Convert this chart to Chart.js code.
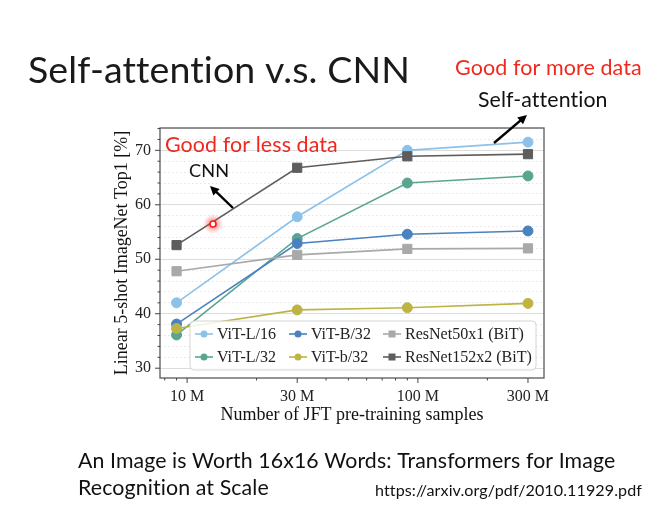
<!DOCTYPE html>
<html><head><meta charset="utf-8">
<script src="https://cdn.jsdelivr.net/npm/chart.js@4.4.0/dist/chart.umd.min.js"></script>
<style>html,body{margin:0;padding:0;background:#fff;}#wrap{width:665px;height:509px;position:relative;}</style>
</head><body><div id="wrap"><canvas id="c"></canvas></div>
<script>
const samples = [9e6, 30e6, 90e6, 300e6];
const vitL16 = [42.0, 57.8, 70.0, 71.5];
const vitL32 = [36.1, 53.8, 64.0, 65.3];
const vitB32 = [38.1, 52.9, 54.6, 55.2];
const vitb32 = [37.3, 40.7, 41.1, 41.9];
const r50x1 = [47.8, 50.8, 51.9, 52.0];
const r152x2 = [52.6, 66.8, 68.9, 69.3];
const seriesLabels = ['ViT-L/16','ViT-L/32','ViT-B/32','ViT-b/32','ResNet50x1 (BiT)','ResNet152x2 (BiT)'];
const xTickValues = [1e7, 3e7, 1e8, 3e8];
const xTickLabels = ['10 M','30 M','100 M','300 M'];
const yTickValues = [30, 40, 50, 60, 70];
const xTitle = 'Number of JFT pre-training samples';
const yTitle = 'Linear 5-shot ImageNet Top1 [%]';
const slideTitle = 'Self-attention v.s. CNN';
const noteMore = 'Good for more data';
const noteSA = 'Self-attention';
const noteLess = 'Good for less data';
const noteCNN = 'CNN';
const refLine1 = 'An Image is Worth 16x16 Words: Transformers for Image';
const refLine2 = 'Recognition at Scale';
const refUrl = 'https://arxiv.org/pdf/2010.11929.pdf';

const colors = ['#8cc2ea','#5aa590','#4a82bf','#bdb444','#a9a9a9','#5d5d5d'];
const styles = ['circle','circle','circle','circle','rect','rect'];
const allSeries = [vitL16, vitL32, vitB32, vitb32, r50x1, r152x2];

const datasets = allSeries.map((vals, i) => ({
  label: seriesLabels[i],
  data: vals.map((v, j) => ({x: samples[j], y: v})),
  borderColor: colors[i], backgroundColor: colors[i],
  pointBackgroundColor: colors[i], pointBorderColor: colors[i],
  pointStyle: styles[i], pointRadius: styles[i] === 'rect' ? 6.5 : 5,
  pointBorderWidth: 1, borderWidth: 1.6, tension: 0, fill: false,
  order: allSeries.length - i
}));

const SERIF = 'Liberation Serif';
const SANS = 'Lato';

function fitText(ctx, text, x, y, w, family, color) {
  ctx.save();
  if ('letterSpacing' in ctx) ctx.letterSpacing = '0.1px';
  ctx.font = '40px "' + family + '"';
  const m = ctx.measureText(text).width;
  const size = 40 * w / m;
  ctx.font = size + 'px "' + family + '"';
  ctx.fillStyle = color;
  ctx.textAlign = 'left';
  ctx.textBaseline = 'alphabetic';
  ctx.fillText(text, x, y);
  ctx.restore();
}
function arrow(ctx, x1, y1, x2, y2) {
  const a = Math.atan2(y2 - y1, x2 - x1);
  const hl = 9, hw = 4.5;
  ctx.save();
  ctx.strokeStyle = '#000'; ctx.fillStyle = '#000'; ctx.lineWidth = 2.4;
  ctx.beginPath();
  ctx.moveTo(x1, y1);
  ctx.lineTo(x2 - Math.cos(a) * hl * 0.8, y2 - Math.sin(a) * hl * 0.8);
  ctx.stroke();
  ctx.beginPath();
  ctx.moveTo(x2, y2);
  ctx.lineTo(x2 - hl * Math.cos(a) + hw * Math.sin(a), y2 - hl * Math.sin(a) - hw * Math.cos(a));
  ctx.lineTo(x2 - hl * Math.cos(a) - hw * Math.sin(a), y2 - hl * Math.sin(a) + hw * Math.cos(a));
  ctx.closePath(); ctx.fill();
  ctx.restore();
}

const overlay = {
  id: 'overlay',
  afterDatasetsDraw(chart) {
    const ctx = chart.ctx;
    const bx = 190, by = 321, bw = 346, bh = 49, r = 4;
    ctx.save();
    ctx.beginPath();
    ctx.moveTo(bx + r, by); ctx.arcTo(bx + bw, by, bx + bw, by + bh, r);
    ctx.arcTo(bx + bw, by + bh, bx, by + bh, r); ctx.arcTo(bx, by + bh, bx, by, r);
    ctx.arcTo(bx, by, bx + bw, by, r); ctx.closePath();
    ctx.fillStyle = 'rgba(255,255,255,0.85)'; ctx.fill();
    ctx.strokeStyle = '#d4d4d4'; ctx.lineWidth = 1; ctx.stroke();
    ctx.font = '40px "' + SERIF + '"';
    const lsize = 40 * 127 / ctx.measureText(seriesLabels[5]).width;
    ctx.font = lsize + 'px "' + SERIF + '"';
    ctx.textBaseline = 'middle';
    const cols = [195, 289, 383];
    const rows = [334, 357];
    chart.data.datasets.forEach((ds, i) => {
      const cx = cols[Math.floor(i / 2)], cy = rows[i % 2];
      ctx.strokeStyle = ds.borderColor; ctx.lineWidth = 1.6;
      ctx.beginPath(); ctx.moveTo(cx, cy); ctx.lineTo(cx + 18, cy); ctx.stroke();
      ctx.fillStyle = ds.borderColor;
      ctx.beginPath();
      if (ds.pointStyle === 'rect') ctx.rect(cx + 9 - 3.5, cy - 3.5, 7, 7);
      else ctx.arc(cx + 9, cy, 3.5, 0, Math.PI * 2);
      ctx.fill();
      ctx.fillStyle = '#222';
      ctx.fillText(ds.label, cx + 22, cy + 1);
    });
    ctx.restore();
  },
  afterDraw(chart) {
    const ctx = chart.ctx, a = chart.chartArea;
    const xs = chart.scales.x, ys = chart.scales.y;
    ctx.save();
    ctx.strokeStyle = '#5a5a5a'; ctx.lineWidth = 1.3;
    ctx.strokeRect(a.left, a.top, a.right - a.left, a.bottom - a.top);
    ctx.strokeStyle = '#444'; ctx.lineWidth = 1;
    ys.ticks.forEach(t => {
      const y = ys.getPixelForValue(t.value);
      const L = yTickValues.includes(t.value) ? 5 : 2.5;
      ctx.beginPath(); ctx.moveTo(a.left, y); ctx.lineTo(a.left - L, y); ctx.stroke();
    });
    for (let e = 6; e <= 8; e++) {
      for (let k = 1; k <= 9; k++) {
        const v = k * Math.pow(10, e);
        if (v < xs.min || v > xs.max) continue;
        const x = xs.getPixelForValue(v);
        const major = xTickValues.includes(v);
        ctx.beginPath(); ctx.moveTo(x, a.bottom); ctx.lineTo(x, a.bottom + (major ? 5 : 2.5)); ctx.stroke();
      }
    }
    ctx.restore();
    fitText(ctx, slideTitle, 28, 83, 382, SANS, '#1a1a1a');
    fitText(ctx, noteMore, 455, 75, 186, SANS, '#f0281e');
    fitText(ctx, noteSA, 478, 107, 129, SANS, '#111');
    fitText(ctx, noteLess, 165, 152, 172, SANS, '#f0281e');
    fitText(ctx, noteCNN, 189, 177, 40, SANS, '#111');
    fitText(ctx, refLine1, 78, 468, 535, SANS, '#111');
    fitText(ctx, refLine2, 78, 495, 190, SANS, '#111');
    fitText(ctx, refUrl, 375, 496, 265, SANS, '#111');
    arrow(ctx, 494, 143, 527, 115);
    arrow(ctx, 233, 208, 210, 186);
    ctx.save();
    const g = ctx.createRadialGradient(213, 224, 0, 213, 224, 10);
    g.addColorStop(0, 'rgba(255,40,40,0.7)');
    g.addColorStop(1, 'rgba(255,80,80,0)');
    ctx.fillStyle = g;
    ctx.beginPath(); ctx.arc(213, 224, 10, 0, Math.PI * 2); ctx.fill();
    ctx.strokeStyle = '#ff1a1a'; ctx.lineWidth = 1.6; ctx.fillStyle = '#fff';
    ctx.beginPath(); ctx.arc(213, 224, 3, 0, Math.PI * 2); ctx.fill(); ctx.stroke();
    ctx.restore();
  }
};

Chart.defaults.font.family = SERIF;
new Chart(document.getElementById('c'), {
  type: 'line',
  data: { datasets },
  options: {
    responsive: true, maintainAspectRatio: false, animation: false,
    layout: { padding: { left: 110, right: 121, top: 128, bottom: 81 } },
    plugins: { legend: { display: false }, tooltip: { enabled: false } },
    scales: {
      x: {
        type: 'logarithmic', min: 7.63e6, max: 3.52e8,
        afterBuildTicks: s => { s.ticks = xTickValues.map(v => ({value: v})); },
        afterFit: s => { s.height = 50; },
        ticks: { callback: (v, i) => xTickLabels[i], font: { size: 16 }, color: '#222', padding: 9, autoSkip: false, maxRotation: 0 },
        grid: { display: false, drawTicks: false },
        border: { display: false },
        title: { display: true, text: xTitle, font: { size: 18 }, color: '#111', padding: { top: 0, bottom: 2 } }
      },
      y: {
        type: 'linear', min: 28.2, max: 74.1,
        afterBuildTicks: s => { const t = []; for (let v = 30; v <= 74; v += 2) t.push({value: v}); s.ticks = t; },
        afterFit: s => { s.width = 50; },
        ticks: { callback: v => yTickValues.includes(v) ? String(v) : '', font: { size: 16 }, color: '#222', padding: 9, autoSkip: false },
        grid: { drawTicks: false, lineWidth: 1,
          color: c => (c.tick && yTickValues.includes(c.tick.value)) ? '#dcdcdc' : '#e4e4e4' },
        border: { display: false,
          dash: c => (c.tick && !yTickValues.includes(c.tick.value)) ? [1.5, 2.5] : [] },
        title: { display: true, text: yTitle, font: { size: 18 }, color: '#111', padding: { top: 1, bottom: 0 } }
      }
    }
  },
  plugins: [overlay]
});
</script></body></html>
